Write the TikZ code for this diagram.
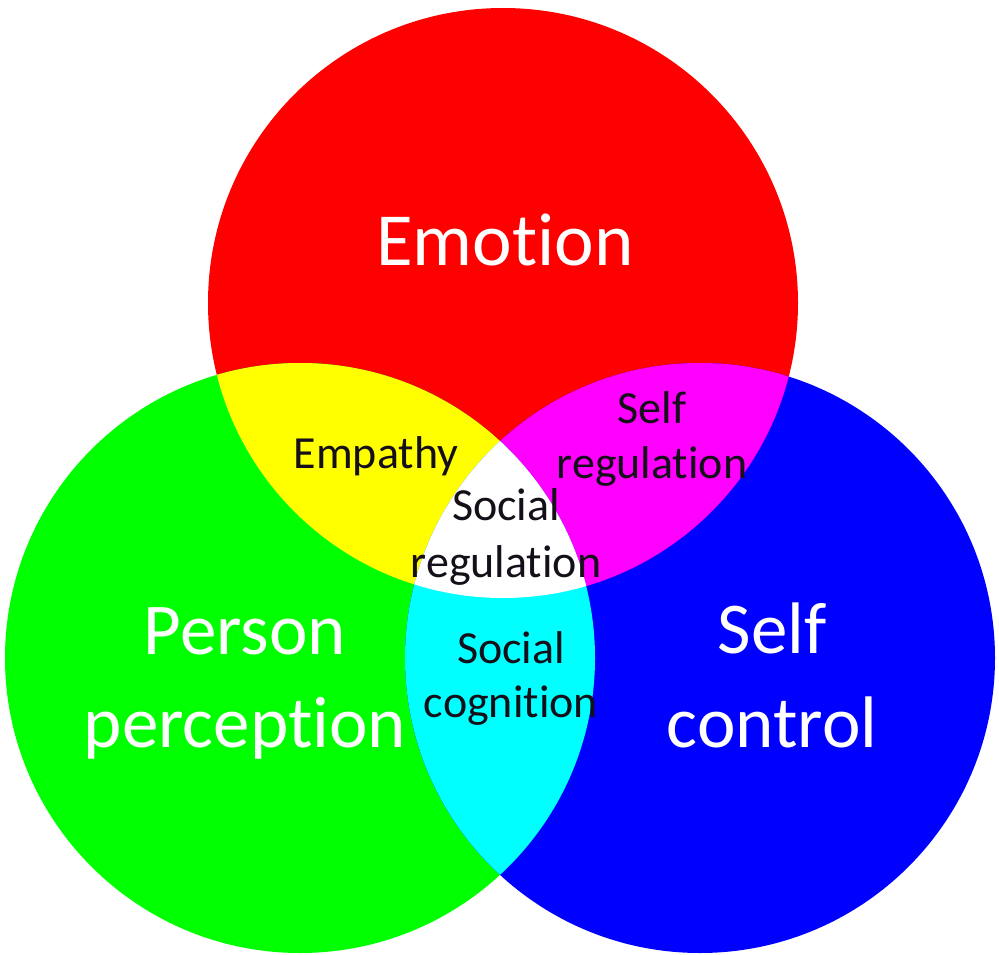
\documentclass[tikz,border=0pt]{standalone}
\usepackage{fontspec}
\setmainfont{Carlito}[Ligatures={NoCommon}]
\definecolor{cred}{RGB}{255,0,0}
\definecolor{cgreen}{RGB}{0,255,0}
\definecolor{cblue}{RGB}{0,0,255}
\definecolor{cyellow}{RGB}{255,255,0}
\definecolor{cmagenta}{RGB}{255,0,255}
\definecolor{ccyan}{RGB}{0,255,255}
\definecolor{dark}{RGB}{20,15,25}
\tikzset{
  biglabel/.style={text=white, font=\fontsize{73}{93}\selectfont, align=center, anchor=base, inner sep=0pt},
  smalllabel/.style={text=dark, font=\fontsize{46}{55}\selectfont, align=center, anchor=base, inner sep=0pt}
}
\begin{document}
\begin{tikzpicture}[x=1pt,y=-1pt]
\useasboundingbox (0,0) rectangle (999,955);
\fill[white] (0,0) rectangle (999,955);
\coordinate (R) at (503,303);
\coordinate (G) at (300,658);
\coordinate (B) at (700,658);
\fill[cred] (R) circle (295pt);
\fill[cgreen] (G) circle (295pt);
\fill[cblue] (B) circle (295pt);
\begin{scope}
  \clip (R) circle (295pt);
  \fill[cyellow] (G) circle (295pt);
  \fill[cmagenta] (B) circle (295pt);
\end{scope}
\begin{scope}
  \clip (G) circle (295pt);
  \fill[ccyan] (B) circle (295pt);
\end{scope}
\begin{scope}
  \clip (R) circle (295pt);
  \clip (G) circle (295pt);
  \fill[white] (B) circle (295pt);
\end{scope}
\node[biglabel, font=\fontsize{75}{93}\selectfont] (emotion) at (505,265) {Emotion};
\node[biglabel] (person) at (245,747) {Person\\perception};
\node[biglabel, font=\fontsize{73}{94}\selectfont] (selfcontrol) at (772,747) {Self\\control};
\node[smalllabel] (empathy) at (376,468) {Empathy};
\node[smalllabel] (selfreg) at (652,478) {Self\\regulation};
\node[smalllabel, font=\fontsize{46}{57}\selectfont] (socialreg) at (506,577) {Social\\regulation};
\node[smalllabel, font=\fontsize{46}{54}\selectfont] (socialcog) at (511,717) {Social\\cognition};
\end{tikzpicture}
\end{document}
